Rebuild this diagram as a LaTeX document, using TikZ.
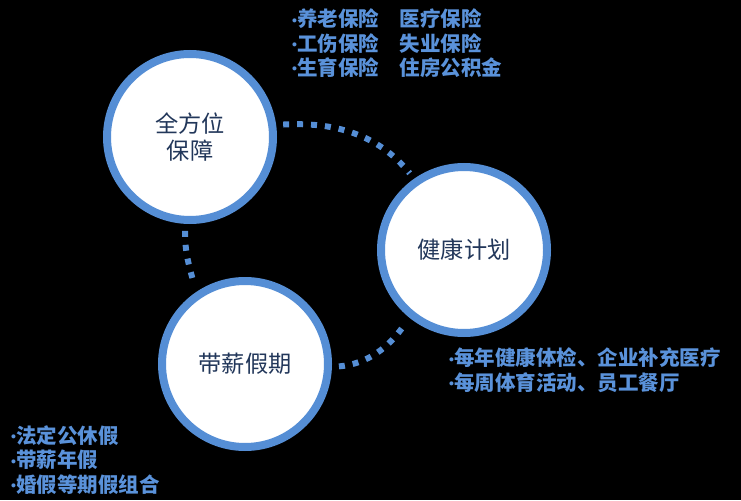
\documentclass[tikz,border=0pt]{standalone}
\usepackage{fontspec}
\setmainfont{Noto Sans CJK SC}
\newfontfamily\dotfont{Liberation Sans}
\usepackage{tikz}
\usetikzlibrary{positioning}
\definecolor{ringblue}{HTML}{558ED5}
\definecolor{listblue}{HTML}{5A92DA}
\definecolor{navytext}{HTML}{22375A}
\newcommand\itemdot{{\dotfont\fontsize{12pt}{12pt}\selectfont\raisebox{0.12em}{•}}}

\begin{document}
\begin{tikzpicture}[
  ring/.style={circle,draw=ringblue,line width=0.24cm,fill=white,
    minimum size=4.98cm,align=center,text=navytext,
    font=\fontsize{19.8pt}{23.5pt}\selectfont},
  items/.style={anchor=west,inner sep=0pt,align=left,text=listblue,
    font=\bfseries\fontsize{17.5pt}{20.8pt}\selectfont},
  link/.style={draw=ringblue,line width=5.1pt,dash pattern=on 5.1pt off 6.8pt,
    shorten <=6pt,shorten >=6pt}
]
  \fill[black] (0,0) rectangle (22.23,15);

  \node[ring] (guard) at (5.70,10.89) {全方位\\保障};
  \node[ring] (health) at (13.92,7.50) {健康计划};
  \node[ring] (leave) at (7.35,4.08) {带薪假期};

  \node[items] (guardlist) at (8.76,13.70)
    {\itemdot 养老保险　医疗保险\\\itemdot 工伤保险　失业保险\\\itemdot 生育保险　住房公积金};
  \node[items] (healthlist) at (13.47,3.89)
    {\itemdot 每年健康体检、企业补充医疗\\\itemdot 每周体育活动、员工餐厅};
  \node[items] (leavelist) at (0.33,1.20)
    {\itemdot 法定公休假\\\itemdot 带薪年假\\\itemdot 婚假等期假组合};

  \draw[link] (guard.8) to[out=3,in=129] (health.125);
  \draw[link] (guard.267) to[out=-92,in=106] (leave.124);
  \draw[link] (leave.-2) to[out=5,in=236] (health.231);
\end{tikzpicture}
\end{document}
